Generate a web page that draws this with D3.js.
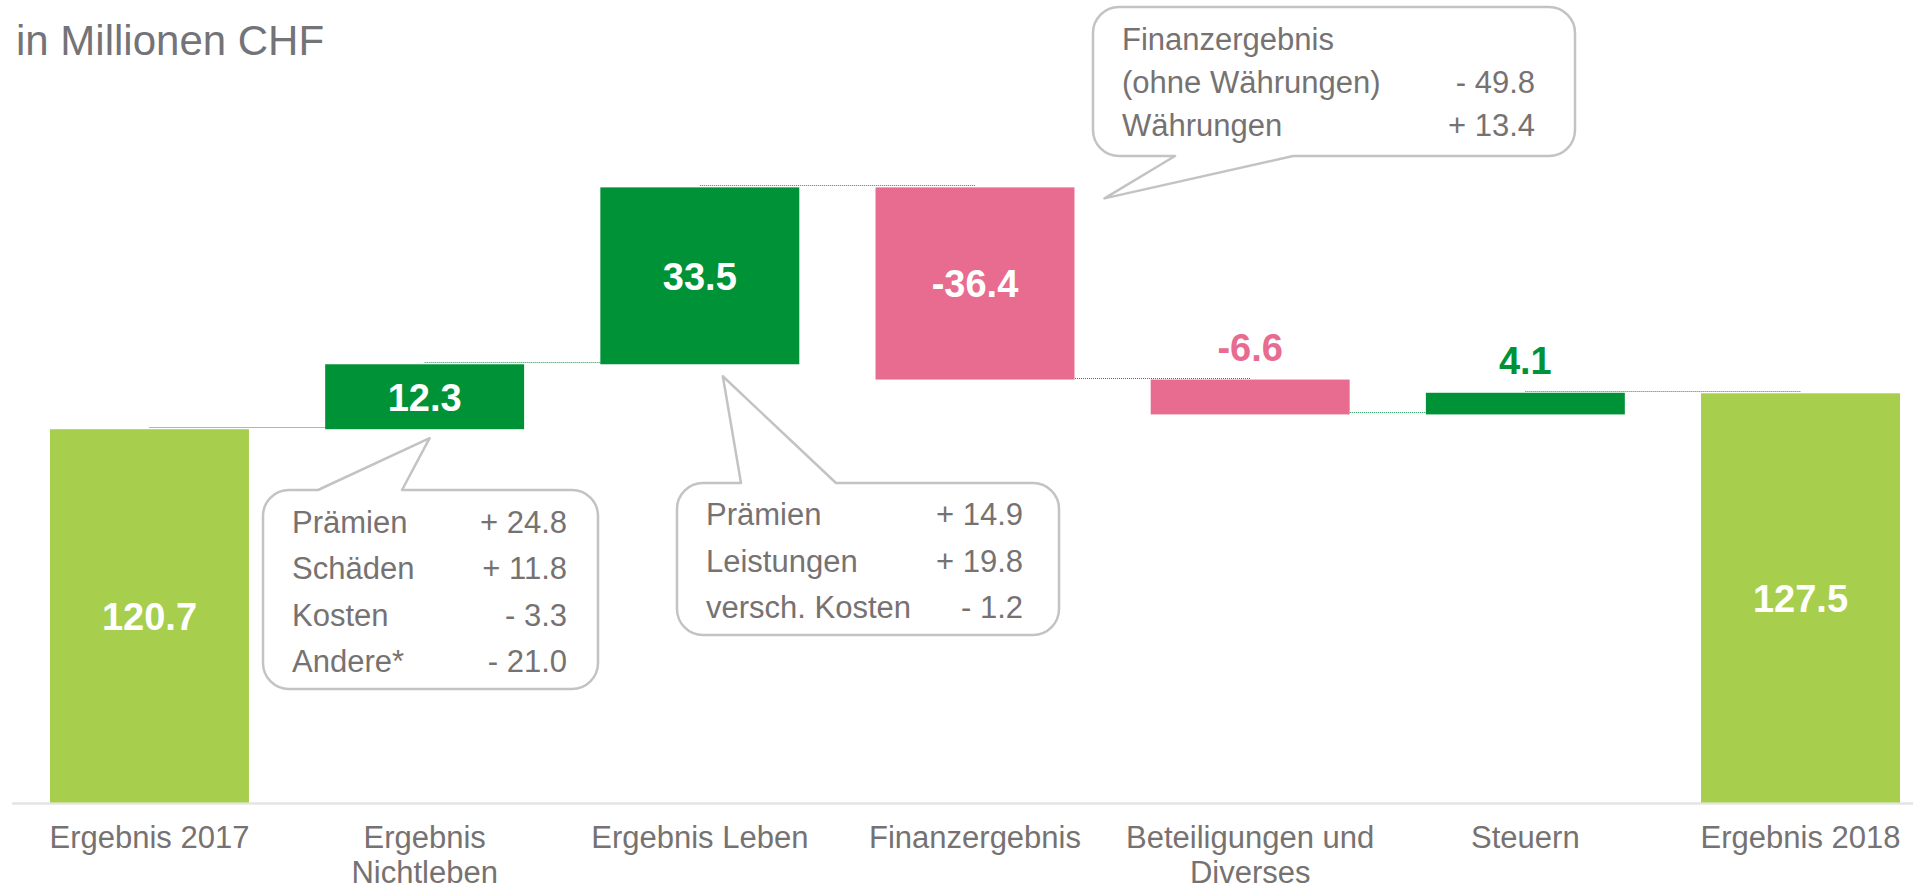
<!DOCTYPE html>
<html>
<head>
<meta charset="utf-8">
<script src="https://cdn.jsdelivr.net/npm/d3@7"></script>
<style>
  body { margin: 0; background: #fff; }
  svg { display: block; font-family: 'Liberation Sans', Arial, sans-serif; }
</style>
</head>
<body>
<svg id="chart"></svg>
<script>
// values in Mio. CHF
const categories = ['Ergebnis 2017', 'Ergebnis Nichtleben', 'Ergebnis Leben', 'Finanzergebnis', 'Beteiligungen und Diverses', 'Steuern', 'Ergebnis 2018'];
const categoryLines = [['Ergebnis 2017'], ['Ergebnis', 'Nichtleben'], ['Ergebnis Leben'], ['Finanzergebnis'], ['Beteiligungen und', 'Diverses'], ['Steuern'], ['Ergebnis 2018']];
const values = [120.7, 12.3, 33.5, -36.4, -6.6, 4.1, 127.5];
const kinds = ['total', 'delta', 'delta', 'delta', 'delta', 'delta', 'total'];
const axisFloor = 50;

const nichtlebenRows = [['Prämien', '+ 24.8'], ['Schäden', '+ 11.8'], ['Kosten', '- 3.3'], ['Andere*', '- 21.0']];
const lebenRows = [['Prämien', '+ 14.9'], ['Leistungen', '+ 19.8'], ['versch. Kosten', '- 1.2']];
const finanzRows = [['Finanzergebnis', ''], ['(ohne Währungen)', '- 49.8'], ['Währungen', '+ 13.4']];

const width = 1913;
const height = 890;
const baseY = 802.5;

const colors = { total: '#a7cf4d', pos: '#009237', neg: '#e86c8f' };
const textGrey = '#767272';

// running totals
let running = 0;
const bars = categories.map((c, i) => {
  const v = values[i];
  let start, end;
  if (kinds[i] === 'total') {
    start = axisFloor; end = v; running = v;
  } else {
    start = running; end = running + v; running = end;
  }
  return { cat: c, lines: categoryLines[i], value: v, kind: kinds[i], start, end };
});

const svg = d3.select('#chart')
  .attr('width', width)
  .attr('height', height);

const x = d3.scaleBand()
  .domain(categories)
  .range([50, 1900])
  .paddingInner(0.277)
  .paddingOuter(0);

const y = d3.scaleLinear()
  .domain([axisFloor, 170])
  .range([baseY, baseY - 120 * 5.28]);

const cx = c => x(c) + x.bandwidth() / 2;

// title
svg.append('text')
  .attr('x', 16)
  .attr('y', 55)
  .attr('font-size', 42)
  .attr('fill', '#737378')
  .text('in Millionen CHF');

// baseline
svg.append('line')
  .attr('x1', 12)
  .attr('x2', width)
  .attr('y1', baseY + 1)
  .attr('y2', baseY + 1)
  .attr('stroke', '#e4e4e4')
  .attr('stroke-width', 2.5);

// connectors (behind bars)
svg.selectAll('.conn')
  .data(bars.slice(0, -1))
  .enter().append('line')
  .attr('class', 'conn')
  .attr('x1', d => cx(d.cat))
  .attr('x2', (d, i) => cx(bars[i + 1].cat))
  .attr('y1', d => Math.round(y(d.end)) - 1.5)
  .attr('y2', d => Math.round(y(d.end)) - 1.5)
  .attr('stroke', '#1f9650')
  .attr('stroke-width', 1)
  .attr('stroke-dasharray', '1,1');

const barColor = d => (d.kind === 'total' ? colors.total : (d.value >= 0 ? colors.pos : colors.neg));
const fmt = v => v.toFixed(1);

svg.selectAll('.bar')
  .data(bars)
  .enter().append('rect')
  .attr('class', 'bar')
  .attr('x', d => x(d.cat))
  .attr('width', x.bandwidth())
  .attr('y', d => y(Math.max(d.start, d.end)))
  .attr('height', d => Math.abs(y(d.start) - y(d.end)))
  .attr('fill', barColor);

// value labels
svg.selectAll('.val')
  .data(bars)
  .enter().append('text')
  .attr('class', 'val')
  .attr('x', d => cx(d.cat))
  .attr('y', d => {
    const top = y(Math.max(d.start, d.end));
    const bot = y(Math.min(d.start, d.end));
    if (bot - top < 60) return top - 19;
    return (top + bot) / 2 + 14;
  })
  .attr('text-anchor', 'middle')
  .attr('font-size', 38)
  .attr('font-weight', 'bold')
  .attr('fill', d => {
    const h = Math.abs(y(d.start) - y(d.end));
    return h < 60 ? barColor(d) : '#fff';
  })
  .text(d => fmt(d.value));

// category labels
const catLabels = svg.selectAll('.cat')
  .data(bars)
  .enter().append('text')
  .attr('class', 'cat')
  .attr('x', d => cx(d.cat))
  .attr('y', 848)
  .attr('text-anchor', 'middle')
  .attr('font-size', 31)
  .attr('fill', textGrey);

catLabels.selectAll('tspan')
  .data(d => d.lines.map(l => ({ l, x: cx(d.cat) })))
  .enter().append('tspan')
  .attr('x', d => d.x)
  .attr('dy', (d, i) => (i === 0 ? 0 : 35))
  .text(d => d.l);

// callout bubbles
const bubblePath = (b, tip) => {
  const { bx, by, w, h, r, base, side } = b;
  const x2 = bx + w;
  const y2 = by + h;
  let p = `M${bx + r},${by}`;
  if (side === 'top') p += `L${base[0]},${by}L${tip[0]},${tip[1]}L${base[1]},${by}`;
  p += `L${x2 - r},${by}A${r},${r} 0 0 1 ${x2},${by + r}`;
  p += `L${x2},${y2 - r}A${r},${r} 0 0 1 ${x2 - r},${y2}`;
  if (side === 'bottom') p += `L${base[1]},${y2}L${tip[0]},${tip[1]}L${base[0]},${y2}`;
  p += `L${bx + r},${y2}A${r},${r} 0 0 1 ${bx},${y2 - r}`;
  p += `L${bx},${by + r}A${r},${r} 0 0 1 ${bx + r},${by}Z`;
  return p;
};

const bubbles = [
  {
    rows: nichtlebenRows, bx: 263, by: 490, w: 335, h: 199, r: 26,
    base: [318, 402], side: 'top', valX: 567, first: 43, gap: 46.3,
    tip: () => [cx(categories[1]) + 5, y(bars[1].start) + 9]
  },
  {
    rows: lebenRows, bx: 677, by: 483, w: 382, h: 152, r: 26,
    base: [741, 836], side: 'top', valX: 1023, first: 42, gap: 46.6,
    tip: () => [cx(categories[2]) + 23, y(bars[2].start) + 12]
  },
  {
    rows: finanzRows, bx: 1093, by: 7, w: 482, h: 149, r: 26,
    base: [1175, 1293], side: 'bottom', valX: 1535, first: 43, gap: 43.2,
    tip: () => [x(categories[3]) + x.bandwidth() + 30, y(bars[3].start) + 11]
  }
];

bubbles.forEach(b => {
  const g = svg.append('g');
  g.append('path')
    .attr('d', bubblePath(b, b.tip()))
    .attr('fill', '#fff')
    .attr('stroke', '#c3c3c3')
    .attr('stroke-width', 2.5)
    .attr('stroke-linejoin', 'round');

  g.selectAll('.lbl')
    .data(b.rows)
    .enter().append('text')
    .attr('x', b.bx + 29)
    .attr('y', (d, i) => b.by + b.first + i * b.gap)
    .attr('font-size', 31)
    .attr('fill', textGrey)
    .text(d => d[0]);

  g.selectAll('.num')
    .data(b.rows)
    .enter().append('text')
    .attr('x', b.valX)
    .attr('y', (d, i) => b.by + b.first + i * b.gap)
    .attr('text-anchor', 'end')
    .attr('font-size', 31)
    .attr('fill', textGrey)
    .text(d => d[1]);
});
</script>
</body>
</html>
